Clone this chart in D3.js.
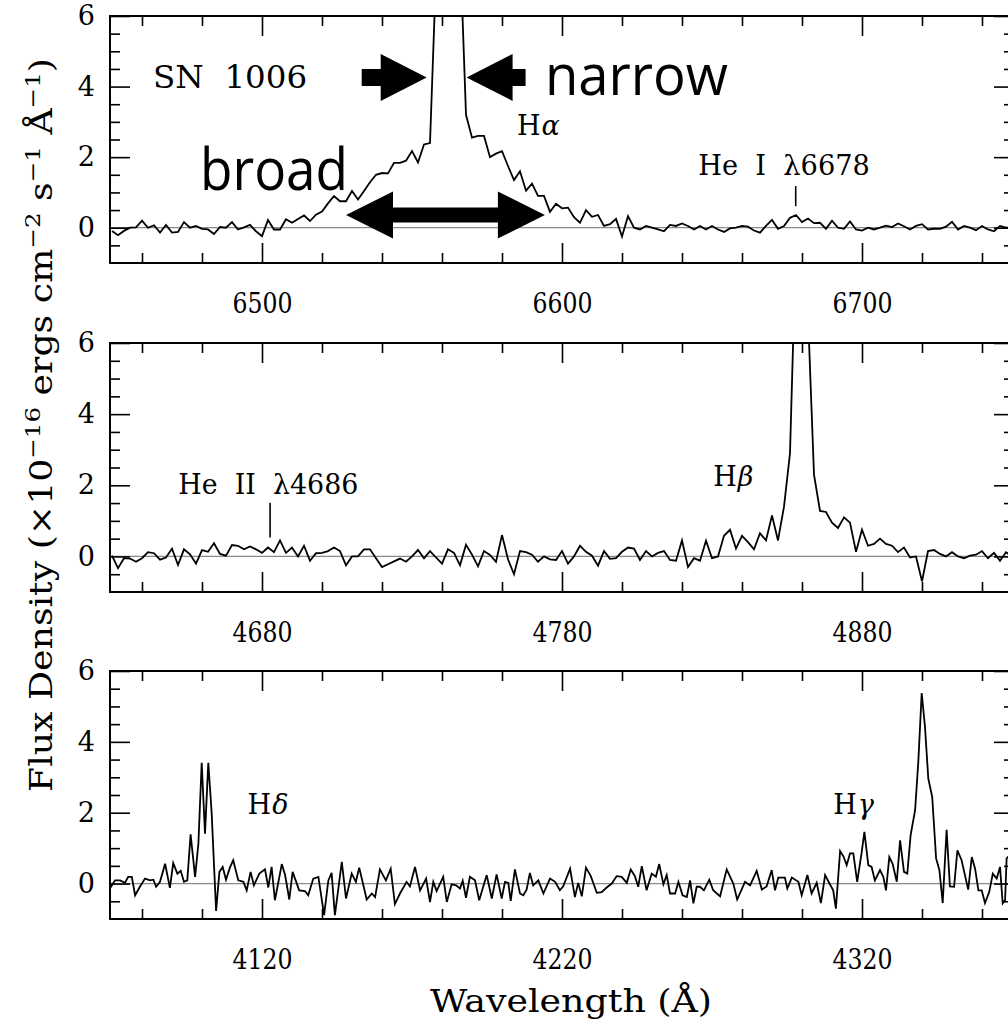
<!DOCTYPE html>
<html>
<head>
<meta charset="utf-8">
<script src="https://cdn.jsdelivr.net/npm/d3@7"></script>
<style>
  body { margin: 0; background: #fff; }
  svg text { font-family: "DejaVu Serif", serif; fill: #000; }
</style>
</head>
<body>
<div id="chart"></div>
<script>
// ---- data (flux in 1e-16 erg/cm2/s/A) ----
// H-alpha panel, sampled every 2 A from 6450 A
const haStart = 6450, haStep = 2;
const haFlux = [
  -0.09, -0.21, -0.09, 0, 0.01, 0.2, 0.0, 0.07, -0.14, 0.08,
  -0.14, -0.12, 0.16, 0, 0.05, -0.03, -0.05, -0.18, 0.02, 0,
  0.16, -0.05, 0.01, 0.08, -0.1, -0.24, 0.22, -0.05, -0.05, 0.24,
  0.14, 0.25, 0.35, 0.19, 0.37, 0.46, 0.69, 0.9, 0.75, 0.75,
  1.04, 0.8, 1.04, 1.29, 1.5, 1.55, 1.54, 1.84, 1.84, 1.9,
  2.17, 1.85, 2.36, 2.4, 7.2, 20, 30, 25, 8.0, 3.2,
  2.55, 2.6, 2.6, 2.0, 2.1, 2.17, 1.75, 1.35, 1.6, 1.05,
  1.25, 0.9, 0.9, 0.45, 0.68, 0.55, 0.57, 0.3, 0.14, 0.5,
  0.31, 0.36, 0.05, 0.1, 0.25, -0.25, 0.33, 0.0, -0.05, 0.05,
  0.0, -0.05, -0.1, 0.08, 0.05, 0.12, 0.05, -0.05, 0.05, -0.05,
  0.05, -0.05, -0.12, -0.02, 0.0, 0.05, 0.03, -0.08, -0.14, 0.05,
  0.22, -0.03, 0.05, 0.28, 0.36, 0.16, 0.26, 0.13, 0.14, -0.03,
  0.2, 0.0, -0.03, 0.18, -0.05, -0.08, 0.0, -0.05, 0.0, 0.06,
  0.02, 0.12, 0.04, -0.05, 0.05, 0.1, -0.05, -0.03, -0.03, 0.03,
  0.17, -0.05, 0.05, 0.0, -0.07, 0.05, -0.05, -0.1, 0.05, 0.0,
  0.0
];

// H-beta panel, sampled every 2 A from 4630 A
const hbStart = 4630, hbStep = 2;
const hbFlux = [
  0.02, -0.33, -0.05, -0.06, -0.15, -0.05, 0.12, 0.09, -0.09, -0.03,
  0.22, -0.24, 0.2, 0.06, -0.2, 0.18, 0.13, 0.37, 0.07, 0.02,
  0.32, 0.3, 0.2, 0.28, 0.2, 0.1, 0.25, 0.12, 0.45, 0.1,
  0.25, 0.0, 0.3, -0.12, 0.09, 0.1, 0.15, 0.25, 0.15, -0.25,
  0.0, 0.0, 0.2, 0.2, -0.05, -0.3, -0.22, -0.14, -0.06, -0.15,
  0.0, 0.18, -0.05, 0.15, -0.03, -0.2, 0.2, 0.1, -0.25, 0.33,
  0.05, -0.28, 0.15, 0.04, -0.15, 0.6, -0.08, -0.5, 0.15, 0.12,
  0.05, -0.15, 0.0, -0.08, -0.1, 0.15, -0.2, 0.0, 0.3, 0.13,
  0.02, -0.26, 0.15, -0.07, -0.05, 0.13, 0.25, 0.22, -0.1, 0.15,
  0.0, 0.1, 0.15, -0.1, -0.12, 0.45, -0.3, -0.05, -0.12, 0.44,
  -0.05, 0.0, 0.58, 0.75, 0.22, 0.58, 0.4, 0.2, 0.65, 0.45,
  1.15, 0.45, 1.4, 2.9, 8.9, 16, 6.8, 2.3, 1.28, 1.25,
  0.95, 0.8, 1.1, 0.95, 0.13, 0.75, 0.3, 0.35, 0.5, 0.35,
  0.3, 0.12, 0.25, -0.03, 0.0, -0.7, 0.15, 0.18, 0.07, 0.0,
  0.12, 0.0, -0.05, 0.02, 0.05, 0.15, -0.05, 0.1, -0.12, 0.12,
  0.0
];

// H-delta / H-gamma panel, read point by point
const hdWave = [
  4069.3, 4071.0, 4072.7, 4074.3, 4075.4, 4076.6, 4077.7, 4079.3, 4081.0, 4082.7,
  4083.8, 4084.7, 4086.0, 4087.7, 4089.3, 4090.4, 4091.8, 4092.9, 4094.0, 4095.1,
  4096.2, 4097.7, 4098.8, 4099.9, 4101.0, 4102.1, 4103.2, 4104.7, 4105.8, 4106.9,
  4108.0, 4109.3, 4110.4, 4112.1, 4113.8, 4114.9, 4116.2, 4117.3, 4119.1, 4121.0,
  4122.1, 4123.2, 4124.3, 4126.6, 4127.7, 4129.1, 4130.2, 4132.4, 4134.3, 4135.4,
  4137.1, 4138.8, 4140.7, 4142.1, 4143.2, 4144.3, 4146.6, 4148.0, 4149.9, 4151.3,
  4152.4, 4154.9, 4156.6, 4157.7, 4159.3, 4161.3, 4162.9, 4164.3, 4166.0, 4168.2,
  4169.3, 4171.0, 4172.7, 4174.7, 4176.0, 4177.1, 4178.2, 4180.4, 4181.6, 4183.2,
  4184.7, 4186.0, 4186.9, 4188.0, 4189.3, 4191.0, 4192.4, 4194.9, 4196.6, 4198.2,
  4199.9, 4201.0, 4202.1, 4202.9, 4204.3, 4206.0, 4207.1, 4208.2, 4209.3, 4210.4,
  4212.1, 4213.8, 4216.0, 4217.7, 4219.3, 4220.4, 4222.7, 4224.3, 4225.4, 4226.6,
  4228.0, 4229.6, 4231.6, 4233.2, 4234.9, 4236.6, 4238.2, 4239.9, 4241.6, 4242.9,
  4244.3, 4245.4, 4246.6, 4248.2, 4249.9, 4251.3, 4252.4, 4253.8, 4254.9, 4256.0,
  4257.7, 4258.8, 4260.2, 4261.6, 4262.7, 4263.8, 4264.9, 4266.0, 4267.3, 4269.1,
  4270.4, 4272.7, 4274.9, 4277.1, 4278.4, 4281.0, 4282.7, 4284.9, 4286.6, 4288.2,
  4289.9, 4291.0, 4292.1, 4294.3, 4295.1, 4296.6, 4298.8, 4299.9, 4301.8, 4303.2,
  4304.9, 4306.3, 4307.7, 4309.3, 4310.4, 4311.3, 4312.7, 4313.8, 4314.9, 4316.0,
  4317.1, 4318.4, 4319.9, 4320.8, 4322.1, 4323.2, 4324.3, 4326.0, 4327.1, 4328.0,
  4329.1, 4330.2, 4331.6, 4332.7, 4334.0, 4335.1, 4336.2, 4337.7, 4338.8, 4339.9,
  4341.0, 4342.1, 4343.4, 4344.7, 4345.8, 4346.9, 4348.2, 4349.3, 4350.7, 4351.8,
  4353.2, 4355.4, 4356.6, 4357.7, 4358.8, 4359.9, 4361.0, 4362.4, 4363.6, 4364.9,
  4366.0, 4366.9, 4367.7, 4368.2, 4368.7, 4370.5
];
const hdFlux = [
  -0.14, 0.09, 0.09, 0.02, 0.19, 0.19, -0.33, -0.09, 0.14, 0.09,
  0.11, -0.09, 0.05, 0.56, -0.12, 0.58, 0.28, 0.36, 0.05, 0.09,
  1.39, 0.19, 1.13, 3.41, 1.41, 3.41, 2.02, -0.77, 0.33, 0.47,
  0.11, 0.45, 0.66, 0.09, 0.05, -0.19, 0.33, -0.05, 0.28, 0.4,
  -0.11, 0.47, -0.47, 0.55, 0.24, -0.45, 0.33, -0.19, -0.21, -0.33,
  0.14, 0.19, -0.89, 0.08, 0.3, -0.89, 0.61, -0.42, 0.28, 0.05,
  0.45, -0.45, -0.28, -0.38, 0.4, 0.09, 0.42, -0.58, -0.28, 0.05,
  -0.08, 0.47, -0.19, 0.14, -0.52, 0.05, -0.21, 0.19, -0.52, -0.02,
  -0.05, -0.14, 0.08, -0.4, 0.19, 0.09, -0.47, 0.24, -0.42, 0.26,
  -0.42, 0.05, 0.02, -0.49, 0.4, -0.28, -0.33, -0.17, 0.3, -0.05,
  0.09, -0.28, 0.14, 0.05, -0.19, -0.08, 0.42, -0.38, 0.02, -0.36,
  0.45, 0.21, -0.26, -0.24, -0.11, 0.0, 0.21, 0.19, 0.02, 0.4,
  0.21, -0.09, 0.49, -0.19, 0.28, 0.19, 0.55, -0.02, 0.24, -0.28,
  -0.28, 0.05, -0.33, -0.38, 0.09, -0.56, -0.09, -0.09, -0.19, 0.11,
  -0.19, -0.36, 0.4, 0.0, -0.45, 0.05, -0.05, 0.36, -0.17, -0.08,
  0.38, -0.19, 0.17, 0.17, -0.14, 0.17, 0.05, -0.33, 0.24, -0.28,
  0.02, -0.55, 0.24, -0.02, -0.19, -0.71, 0.92, 0.77, 0.52, 0.85,
  0.85, 0.05, 0.89, 1.46, 0.52, 0.47, 0.09, 0.38, 0.19, -0.19,
  0.75, 0.56, 0.05, 1.22, 0.33, 0.28, 1.36, 2.07, 3.48, 5.38,
  4.42, 2.96, 2.45, 0.71, 0.38, -0.55, 1.52, -0.08, -0.09, 0.94,
  0.66, -0.17, 0.75, 0.42, -0.19, -0.19, -0.55, -0.24, 0.28, 0.14,
  0.47, -0.56, -0.47, 0.71, 0.75, 0.6
];

const haTicks = [6500, 6600, 6700];
const hbTicks = [4680, 4780, 4880];
const hdTicks = [4120, 4220, 4320];
const fluxTicks = [0, 2, 4, 6];

// line labels: [panel, text, greek letter, wavelength, flux]
const lineLabels = [
  [0, "SN  1006", "", 6463.7, 3.95],
  [0, "H", "\u03b1", 6585.0, 2.62],
  [0, "He  I  \u03bb6678", "", 6645.4, 1.5],
  [1, "He  II  \u03bb4686", "", 4652.1, 1.75],
  [1, "H", "\u03b2", 4830.4, 1.98],
  [2, "H", "\u03b4", 4115.2, 1.96],
  [2, "H", "\u03b3", 4310.4, 1.96]
];
// short marker lines: [panel, wavelength, flux from, flux to]
const lineMarkers = [
  [0, 6677.9, 0.61, 1.18],
  [1, 4682.7, 0.53, 1.51]
];
// overlay arrows on H-alpha (wavelength of tip, flux)
const narrowTips = [6554.9, 6568.2];
const narrowFlux = 4.26;
const broadEnds = [6528.0, 6594.3];
const broadFlux = 0.36;

// ---- layout ----
const W = 1008, H = 1020;
const left = 110, right = 1014, firstTickX = 262, pxPerA = 3;
const labelWidths = [154, 0, 171.7, 180, 0, 0, 0];

const panels = [
  { first: 6500, top: 16, bottom: 263, wave: haFlux.map((d, i) => haStart + i * haStep), flux: haFlux, ticks: haTicks },
  { first: 4680, top: 343, bottom: 592, wave: hbFlux.map((d, i) => hbStart + i * hbStep), flux: hbFlux, ticks: hbTicks },
  { first: 4120, top: 671, bottom: 919, wave: hdWave, flux: hdFlux, ticks: hdTicks }
];

const svg = d3.select("#chart").append("svg")
  .attr("width", W)
  .attr("height", H);

const scales = panels.map((p, k) => {
  const x = d3.scaleLinear()
    .domain([p.first - (firstTickX - left) / pxPerA, p.first + (right - firstTickX) / pxPerA])
    .range([left, right]);
  const y = d3.scaleLinear().domain([-1, 6]).range([p.bottom, p.top]);

  const g = svg.append("g");

  svg.append("clipPath").attr("id", "clip" + k)
    .append("rect")
    .attr("x", left).attr("y", p.top)
    .attr("width", right - left).attr("height", p.bottom - p.top);

  // zero level
  g.append("line")
    .attr("x1", left).attr("x2", right)
    .attr("y1", y(0)).attr("y2", y(0))
    .attr("stroke", "#8a8a8a")
    .attr("stroke-width", 1.2);

  // spectrum
  const pts = p.wave.map((w, i) => [w, p.flux[i]]);
  g.append("path")
    .datum(pts)
    .attr("clip-path", `url(#clip${k})`)
    .attr("fill", "none")
    .attr("stroke", "#000")
    .attr("stroke-width", 1.8)
    .attr("d", d3.line().x(d => x(d[0])).y(d => y(d[1])));

  // axes, ticks pointing inward
  const minorX = d3.range(p.first - 40, p.first + 241, 20).filter(v => !p.ticks.includes(v));
  const minorY = d3.range(-0.5, 6, 0.5).filter(v => !fluxTicks.includes(v));

  [
    d3.axisBottom(x).tickValues(p.ticks).tickSize(-20).tickPadding(31).tickFormat(d3.format("d")),
    d3.axisBottom(x).tickValues(minorX).tickSize(-10).tickFormat("")
  ].forEach(a => g.append("g").attr("class", "ax xl").attr("transform", `translate(0,${p.bottom})`).call(a));
  [
    d3.axisTop(x).tickValues(p.ticks).tickSize(-20).tickFormat(""),
    d3.axisTop(x).tickValues(minorX).tickSize(-10).tickFormat("")
  ].forEach(a => g.append("g").attr("class", "ax").attr("transform", `translate(0,${p.top})`).call(a));
  [
    d3.axisLeft(y).tickValues(fluxTicks).tickSize(-20).tickPadding(15).tickFormat(d3.format("d")),
    d3.axisLeft(y).tickValues(minorY).tickSize(-10).tickFormat("")
  ].forEach(a => g.append("g").attr("class", "ax").attr("transform", `translate(${left},0)`).call(a));
  [
    d3.axisRight(y).tickValues(fluxTicks).tickSize(-20).tickFormat(""),
    d3.axisRight(y).tickValues(minorY).tickSize(-10).tickFormat("")
  ].forEach(a => g.append("g").attr("class", "ax").attr("transform", `translate(${right},0)`).call(a));

  // frame
  g.append("rect")
    .attr("x", left).attr("y", p.top)
    .attr("width", right - left).attr("height", p.bottom - p.top)
    .attr("fill", "none")
    .attr("stroke", "#000")
    .attr("stroke-width", 2);

  return { x, y };
});

svg.selectAll(".ax .domain").remove();
svg.selectAll(".ax line").attr("stroke", "#000").attr("stroke-width", 1.6);
svg.selectAll(".ax text")
  .style("font-family", "'DejaVu Serif', serif")
  .style("font-size", "27px")
  .attr("fill", "#000");
svg.selectAll(".xl text")
  .attr("textLength", 60)
  .attr("lengthAdjust", "spacingAndGlyphs");

// line labels
lineLabels.forEach((d, i) => {
  const s = scales[d[0]];
  const size = i === 0 ? "32px" : "27px";
  const t = svg.append("text")
    .attr("x", s.x(d[3]))
    .attr("y", s.y(d[4]))
    .style("white-space", "pre")
    .style("font-size", size)
    .text(d[1]);
  if (labelWidths[i]) t.attr("textLength", labelWidths[i]).attr("lengthAdjust", "spacingAndGlyphs");
  if (d[2]) {
    const w = t.node().getComputedTextLength();
    svg.append("text")
      .attr("x", s.x(d[3]) + w + 1)
      .attr("y", s.y(d[4]))
      .style("font-size", size)
      .style("font-style", "italic")
      .text(d[2]);
  }
});

lineMarkers.forEach(d => {
  const s = scales[d[0]];
  svg.append("line")
    .attr("x1", s.x(d[1])).attr("x2", s.x(d[1]))
    .attr("y1", s.y(d[2])).attr("y2", s.y(d[3]))
    .attr("stroke", "#000")
    .attr("stroke-width", 1.6);
});

// overlay: narrow / broad arrows
const haScale = scales[0];
function blockArrow(tx, ty, dir, shaft) {
  const hb = tx - dir * 46, tail = hb - dir * shaft;
  return `M${tx},${ty} L${hb},${ty - 23.5} L${hb},${ty - 8.5} L${tail},${ty - 8.5}` +
    ` L${tail},${ty + 8.5} L${hb},${ty + 8.5} L${hb},${ty + 23.5} Z`;
}
const ny = haScale.y(narrowFlux);
svg.append("path").attr("d", blockArrow(haScale.x(narrowTips[0]), ny, 1, 19)).attr("fill", "#000");
svg.append("path").attr("d", blockArrow(haScale.x(narrowTips[1]), ny, -1, 13)).attr("fill", "#000");

const bx0 = haScale.x(broadEnds[0]), bx1 = haScale.x(broadEnds[1]), by = haScale.y(broadFlux);
svg.append("path")
  .attr("d", `M${bx0},${by} L${bx0 + 47},${by - 23.5} L${bx0 + 47},${by - 7.5} L${bx1 - 47},${by - 7.5}` +
    ` L${bx1 - 47},${by - 23.5} L${bx1},${by} L${bx1 - 47},${by + 23.5} L${bx1 - 47},${by + 7.5}` +
    ` L${bx0 + 47},${by + 7.5} L${bx0 + 47},${by + 23.5} Z`)
  .attr("fill", "#000");

svg.append("text")
  .attr("x", 545).attr("y", 95)
  .style("font-family", "'Open Sans', sans-serif")
  .style("font-size", "56px")
  .attr("textLength", 183).attr("lengthAdjust", "spacingAndGlyphs")
  .text("narrow");
svg.append("text")
  .attr("x", 200).attr("y", 190)
  .style("font-family", "'Open Sans', sans-serif")
  .style("font-size", "58px")
  .attr("textLength", 148).attr("lengthAdjust", "spacingAndGlyphs")
  .text("broad");

// axis titles
svg.append("text")
  .attr("x", 571).attr("y", 1012)
  .attr("text-anchor", "middle")
  .style("font-size", "31px")
  .attr("textLength", 282).attr("lengthAdjust", "spacingAndGlyphs")
  .text("Wavelength (\u00c5)");

const yt = svg.append("text")
  .attr("transform", "translate(52,425) rotate(-90)")
  .attr("text-anchor", "middle")
  .style("font-size", "31px")
  .attr("textLength", 734).attr("lengthAdjust", "spacingAndGlyphs");
[["Flux Density (\u00d710", 0], ["\u221216", 1], [" ergs cm", 0], ["\u22122", 1],
 [" s", 0], ["\u22121", 1], [" \u00c5", 0], ["\u22121", 1], [")", 0]].forEach((d, i, arr) => {
  const prevSup = i > 0 && arr[i - 1][1];
  const ts = yt.append("tspan").text(d[0]);
  if (d[1]) ts.attr("dy", -12).style("font-size", "21px");
  else if (prevSup) ts.attr("dy", 12);
});
</script>
</body>
</html>
